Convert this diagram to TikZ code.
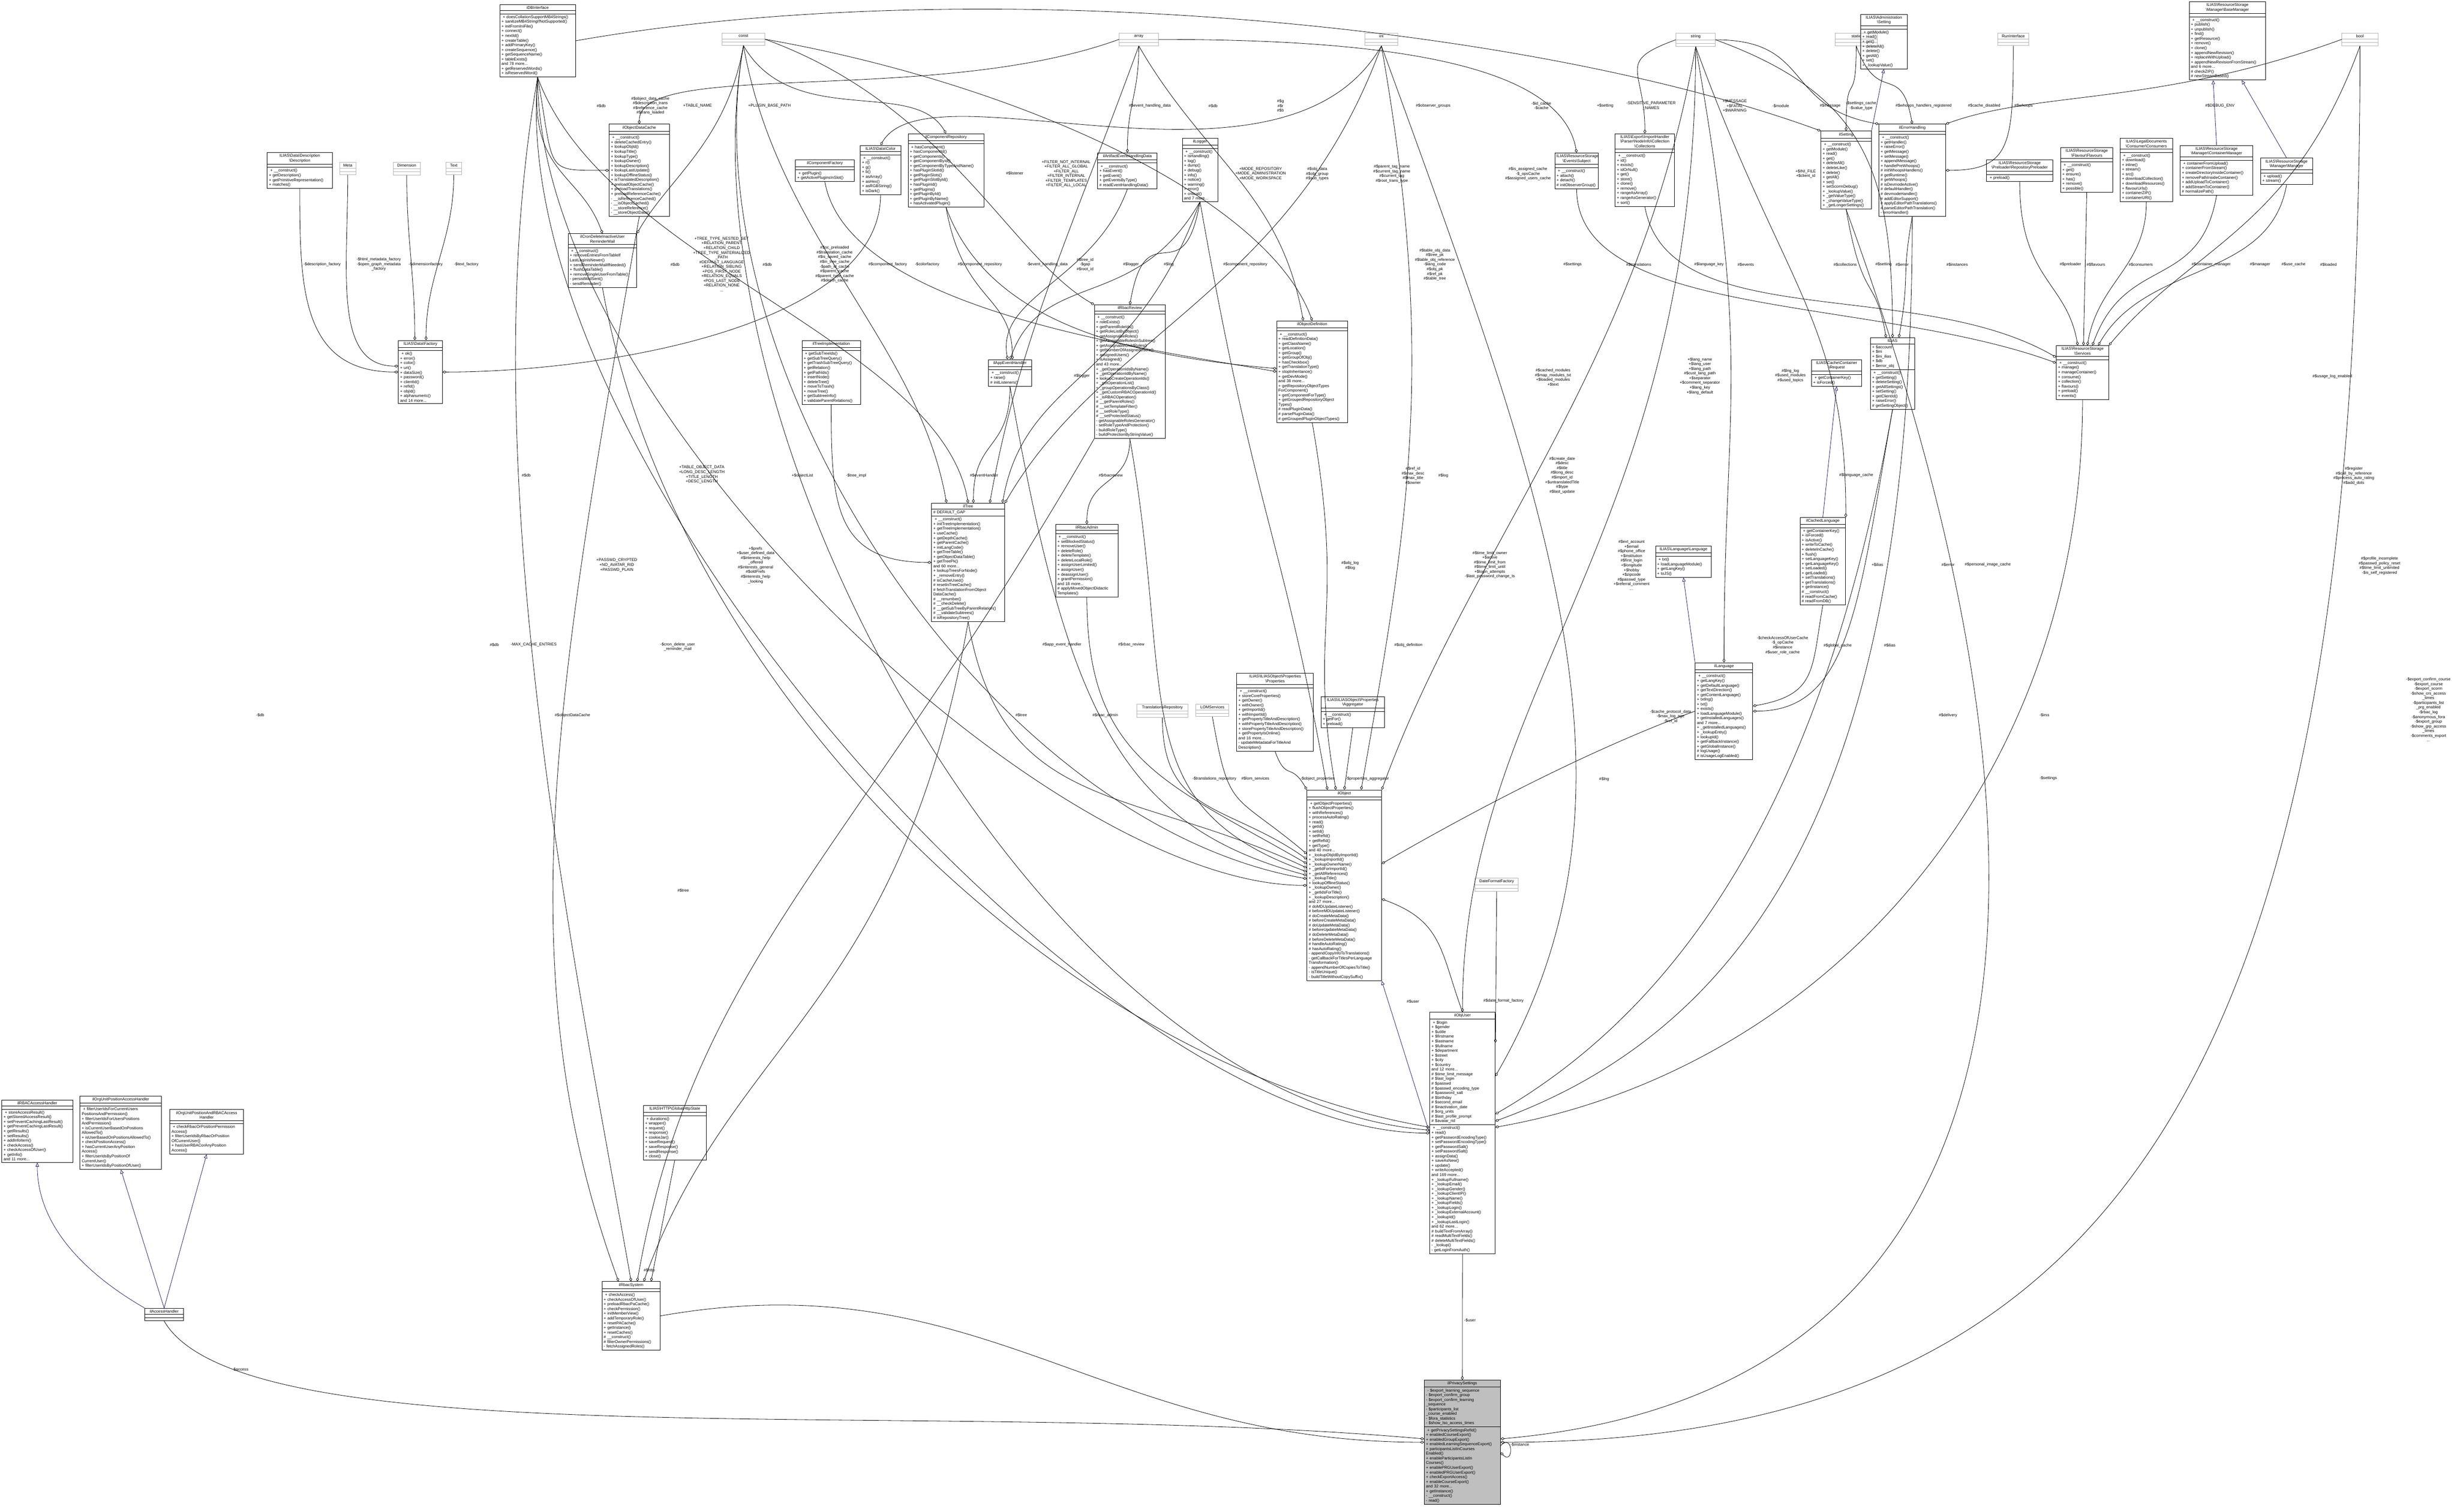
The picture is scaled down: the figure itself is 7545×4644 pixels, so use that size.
\documentclass[tikz,border=0pt]{standalone}
\usepackage{fontspec}
\setmainfont{Liberation Sans}
\usetikzlibrary{shapes.multipart,arrows.meta}
\definecolor{navy}{RGB}{25,25,112}
\newcommand\bsl{\textbackslash}
\newcommand\mf{\fontsize{3.5}{4.1}\selectfont}
\newcommand\np[1]{\nodepart{#1}\mf\raggedright}
\tikzset{
 x=0.01cm,y=-0.01cm,
 cls/.style={draw,line width=0.4pt,rectangle split,rectangle split parts=3,anchor=north west,
   inner xsep=1.5pt,inner ysep=1.2pt,font=\mf,
   rectangle split empty part height=4pt},
 ghost/.style={cls,draw=gray!60,text width=#1},
 agg/.style={line width=0.35pt,-{Diamond[open,length=3.5pt,width=2.4pt]}},
 inh/.style={line width=0.35pt,draw=navy,-{Triangle[open,length=3.5pt,width=3pt]}},
 lbl/.style={font=\mf,align=center,inner sep=0.5pt},
}
\newcommand\ttl[1]{\mf\centering #1\par}
\begin{document}
\begin{tikzpicture}
\useasboundingbox (0,0) rectangle (7545,4644);
% ---------- placeholder types ----------
\node[ghost=1.2cm] (const) at (2217,101) {\ttl{const}\nodepart{two}\mbox{}\nodepart{three}\mbox{}};
\node[ghost=1.1cm] (array) at (3436,101) {\ttl{array}\nodepart{two}\mbox{}\nodepart{three}\mbox{}};
\node[ghost=0.9cm] (int) at (4191,101) {\ttl{int}\nodepart{two}\mbox{}\nodepart{three}\mbox{}};
\node[ghost=1.1cm] (string) at (5146,101) {\ttl{string}\nodepart{two}\mbox{}\nodepart{three}\mbox{}};
\node[ghost=1.2cm] (static) at (5634,101) {\ttl{static}\nodepart{two}\mbox{}\nodepart{three}\mbox{}};
\node[ghost=0.85cm] (runif) at (6134,101) {\ttl{RunInterface}\nodepart{two}\mbox{}\nodepart{three}\mbox{}};
\node[ghost=1.0cm] (bool) at (7191,101) {\ttl{bool}\nodepart{two}\mbox{}\nodepart{three}\mbox{}};
\node[ghost=0.4cm] (meta) at (1042,498) {\ttl{Meta}\nodepart{two}\mbox{}\nodepart{three}\mbox{}};
\node[ghost=0.72cm] (dimension) at (1207,498) {\ttl{Dimension}\nodepart{two}\mbox{}\nodepart{three}\mbox{}};
\node[ghost=0.37cm] (text) at (1369,498) {\ttl{Text}\nodepart{two}\mbox{}\nodepart{three}\mbox{}};
\node[ghost=1.45cm] (transrepo) at (3491,2162) {\ttl{TranslationsRepository}\nodepart{two}\mbox{}\nodepart{three}\mbox{}};
\node[ghost=0.9cm] (lom) at (3672,2162) {\ttl{LOMServices}\nodepart{two}\mbox{}\nodepart{three}\mbox{}};
\node[ghost=1.22cm] (dateff) at (4529,2697) {\ttl{DateFormatFactory}\nodepart{two}\mbox{}\nodepart{three}\mbox{}};
% ---------- classes ----------
\node[cls,text width=2.22cm] (db) at (1534,13) {\ttl{iDBInterface}\nodepart{two}\mbox{}\np{three}
+ doesCollationSupportMB4Strings()\\+ sanitizeMB4StringIfNotSupported()\\+ initFromIniFile()\\+ connect()\\+ nextId()\\+ createTable()\\+ addPrimaryKey()\\+ createSequence()\\+ getSequenceName()\\+ tableExists()\\and 78 more...\\+ getReservedWords()\\+ isReservedWord()};
\node[cls,text width=1.74cm] (odc) at (1870,381) {\ttl{ilObjectDataCache}\nodepart{two}\mbox{}\np{three}
+ \_\_construct()\\+ deleteCachedEntry()\\+ lookupObjId()\\+ lookupTitle()\\+ lookupType()\\+ lookupOwner()\\+ lookupDescription()\\+ lookupLastUpdate()\\+ lookupOfflineStatus()\\+ isTranslatedDescription()\\+ preloadObjectCache()\\+ preloadTranslations()\\+ preloadReferenceCache()\\- \_\_isReferenceCached()\\- \_\_isObjectCached()\\- \_\_storeReference()\\- \_\_storeObjectData()};
\node[cls,text width=2.0cm] (cron) at (1744,717) {\ttl{ilCronDeleteInactiveUser\\ReminderMail}\nodepart{two}\mbox{}\np{three}
+ \_\_construct()\\+ removeEntriesFromTableIf\\LastLoginIsNewer()\\+ sendReminderMailIfNeeded()\\+ flushDataTable()\\+ removeSingleUserFromTable()\\- persistMailSent()\\- sendReminder()};
\node[cls,text width=1.14cm] (color) at (2641,446) {\ttl{ILIAS\bsl Data\bsl Color}\nodepart{two}\mbox{}\np{three}
+ \_\_construct()\\+ r()\\+ g()\\+ b()\\+ asArray()\\+ asHex()\\+ asRGBString()\\+ isDark()};
\node[cls,text width=2.22cm] (comprepo) at (2788,410) {\ttl{ilComponentRepository}\nodepart{two}\mbox{}\np{three}
+ hasComponent()\\+ hasComponentId()\\+ getComponents()\\+ getComponentById()\\+ getComponentByTypeAndName()\\+ hasPluginSlotId()\\+ getPluginSlots()\\+ getPluginSlotById()\\+ hasPluginId()\\+ getPlugins()\\+ getPluginById()\\+ getPluginByName()\\+ hasActivatedPlugin()};
\node[cls,text width=1.7cm] (compfac) at (2442,490) {\ttl{ilComponentFactory}\nodepart{two}\mbox{}\np{three}
+ getPlugin()\\+ getActivePluginsInSlot()};
\node[cls,text width=1.89cm] (descr) at (820,468) {\ttl{ILIAS\bsl Data\bsl Description\\\bsl Description}\nodepart{two}\mbox{}\np{three}
+ \_\_construct()\\+ getDescription()\\+ getPrimitiveRepresentation()\\+ matches()};
\node[cls,text width=1.24cm] (datafac) at (1223,1045) {\ttl{ILIAS\bsl Data\bsl Factory}\nodepart{two}\mbox{}\np{three}
+ ok()\\+ error()\\+ color()\\+ uri()\\+ dataSize()\\+ password()\\+ clientId()\\+ refId()\\+ objId()\\+ alphanumeric()\\and 14 more...};
\node[cls,text width=1.72cm] (artifact) at (3370,469) {\ttl{ilArtifactEventHandlingData}\nodepart{two}\mbox{}\np{three}
+ \_\_construct()\\+ hasEvent()\\+ getEvent()\\+ getEventsByType()\\\# readEventHandlingData()};
\node[cls,text width=0.98cm] (logger) at (3630,424) {\ttl{ilLogger}\nodepart{two}\mbox{}\np{three}
+ \_\_construct()\\+ isHandling()\\+ log()\\+ dump()\\+ debug()\\+ info()\\+ notice()\\+ warning()\\+ error()\\+ critical()\\and 7 more...};
\node[cls,text width=1.23cm] (subject) at (4774,469) {\ttl{ILIAS\bsl ResourceStorage\\\bsl Events\bsl Subject}\nodepart{two}\mbox{}\np{three}
+ \_\_construct()\\+ attach()\\+ detach()\\\# initObserverGroup()};
\node[cls,text width=1.72cm] (collections) at (4959,410) {\ttl{ILIAS\bsl Export\bsl ImportHandler\\\bsl Parser\bsl NodeInfo\bsl Collection\\\bsl Collections}\nodepart{two}\mbox{}\np{three}
+ \_\_construct()\\+ id()\\+ exists()\\+ idOrNull()\\+ get()\\+ store()\\+ clone()\\+ remove()\\+ rangeAsArray()\\+ rangeAsGenerator()\\+ sort()};
\node[cls,text width=1.32cm] (admset) at (5713,43) {\ttl{ILIAS\bsl Administration\\\bsl Setting}\nodepart{two}\mbox{}\np{three}
+ getModule()\\+ read()\\+ get()\\+ deleteAll()\\+ delete()\\+ getAll()\\+ set()\\+ \_lookupValue()};
\node[cls,text width=2.24cm] (basemgr) at (6722,5) {\ttl{ILIAS\bsl ResourceStorage\\\bsl Manager\bsl BaseManager}\nodepart{two}\mbox{}\np{three}
+ \_\_construct()\\+ publish()\\+ unpublish()\\+ find()\\+ getResource()\\+ remove()\\+ clone()\\+ appendNewRevision()\\+ replaceWithUpload()\\+ appendNewRevisionFromStream()\\and 6 more...\\\# checkZIP()\\\# newStreamBased()};
\node[cls,text width=1.44cm] (setting) at (5591,402) {\ttl{ilSetting}\nodepart{two}\mbox{}\np{three}
+ \_\_construct()\\+ getModule()\\+ read()\\+ get()\\+ deleteAll()\\+ deleteLike()\\+ delete()\\+ getAll()\\+ set()\\+ setScormDebug()\\+ \_lookupValue()\\+ \_getValueType()\\+ \_changeValueType()\\+ \_getLongerSettings()};
\node[cls,text width=1.94cm] (errh) at (5769,381) {\ttl{ilErrorHandling}\nodepart{two}\mbox{}\np{three}
+ \_\_construct()\\+ getHandler()\\+ raiseError()\\+ getMessage()\\+ setMessage()\\+ appendMessage()\\+ handlePreWhoops()\\\# initWhoopsHandlers()\\\# getRuntime()\\\# getWhoops()\\\# isDevmodeActive()\\\# defaultHandler()\\\# devmodeHandler()\\\# addEditorSupport()\\\# applyEditorPathTranslations()\\\# parseEditorPathTranslation()\\- errorHandler()};
\node[cls,text width=1.92cm] (preloader) at (6100,490) {\ttl{ILIAS\bsl ResourceStorage\\\bsl Preloader\bsl RepositoryPreloader}\nodepart{two}\mbox{}\np{three}
+ preload()};
\node[cls,text width=1.5cm] (flavours) at (6327,453) {\ttl{ILIAS\bsl ResourceStorage\\\bsl Flavour\bsl Flavours}\nodepart{two}\mbox{}\np{three}
+ \_\_construct()\\+ get()\\+ ensure()\\+ has()\\+ remove()\\+ possible()};
\node[cls,text width=1.5cm] (consumers) at (6510,424) {\ttl{ILIAS\bsl LegalDocuments\\\bsl Consumer\bsl Consumers}\nodepart{two}\mbox{}\np{three}
+ \_\_construct()\\+ download()\\+ inline()\\+ stream()\\+ src()\\+ downloadCollection()\\+ downloadResources()\\+ flavourUrls()\\+ containerZIP()\\+ containerURI()};
\node[cls,text width=2.13cm] (contmgr) at (6694,446) {\ttl{ILIAS\bsl ResourceStorage\\\bsl Manager\bsl ContainerManager}\nodepart{two}\mbox{}\np{three}
+ containerFromUpload()\\+ containerFromStream()\\+ createDirectoryInsideContainer()\\+ removePathInsideContainer()\\+ addUploadToContainer()\\+ addStreamToContainer()\\\# normalizePath()};
\node[cls,text width=1.49cm] (mgr) at (6941,485) {\ttl{ILIAS\bsl ResourceStorage\\\bsl Manager\bsl Manager}\nodepart{two}\mbox{}\np{three}
+ upload()\\+ stream()};
\node[cls,text width=2.07cm] (rbacreview) at (3360,936) {\ttl{ilRbacReview}\nodepart{two}\mbox{}\np{three}
+ \_\_construct()\\+ roleExists()\\+ getParentRoleIds()\\+ getRoleListByObject()\\+ getAssignableRoles()\\+ getAssignableRolesInSubtree()\\+ getAssignableChildRoles()\\+ getNumberOfAssignedUsers()\\+ assignedUsers()\\+ isAssigned()\\and 43 more...\\+ \_getOperationIdsByName()\\+ \_getOperationIdByName()\\+ lookupCreateOperationIds()\\+ \_getOperationList()\\+ \_groupOperationsByClass()\\+ \_getCustomRBACOperationId()\\+ \_isRBACOperation()\\\# \_\_getParentRoles()\\\# \_\_setTemplateFilter()\\\# \_\_setRoleType()\\\# \_\_setProtectedStatus()\\- getAssignableRolesGenerator()\\- setRoleTypeAndProtection()\\- buildRoleType()\\- buildProtectionByStringValue()};
\node[cls,text width=2.07cm] (objdef) at (3920,985) {\ttl{ilObjectDefinition}\nodepart{two}\mbox{}\np{three}
+ \_\_construct()\\+ readDefinitionData()\\+ getClassName()\\+ getLocation()\\+ getGroup()\\+ getGroupOfObj()\\+ hasCheckbox()\\+ getTranslationType()\\+ stopInheritance()\\+ getDevMode()\\and 38 more...\\+ getRepositoryObjectTypes\\ForComponent()\\+ getComponentForType()\\+ getGroupedRepositoryObject\\Types()\\\# readPluginData()\\\# parsePluginData()\\\# getGroupedPluginObjectTypes()};
\node[cls,text width=1.69cm] (treeimpl) at (2462,1045) {\ttl{ilTreeImplementation}\nodepart{two}\mbox{}\np{three}
+ getSubTreeIds()\\+ getSubTreeQuery()\\+ getTrashSubTreeQuery()\\+ getRelation()\\+ getPathIds()\\+ insertNode()\\+ deleteTree()\\+ moveToTrash()\\+ moveTree()\\+ getSubtreeInfo()\\+ validateParentRelations()};
\node[cls,text width=1.21cm] (appevt) at (3035,1104) {\ttl{ilAppEventHandler}\nodepart{two}\mbox{}\np{three}
+ \_\_construct()\\+ raise()\\\# initListeners()};
\node[cls,text width=2.14cm] (tree) at (2860,1545) {\ttl{ilTree}\np{two}\# DEFAULT\_GAP\np{three}
+ \_\_construct()\\+ initTreeImplementation()\\+ getTreeImplementation()\\+ useCache()\\+ getDepthCache()\\+ getParentCache()\\+ initLangCode()\\+ getTreeTable()\\+ getObjectDataTable()\\+ getTreePk()\\and 60 more...\\+ lookupTreesForNode()\\+ \_removeEntry()\\\# isCacheUsed()\\\# resetInTreeCache()\\\# fetchTranslationFromObject\\DataCache()\\\# \_\_renumber()\\\# \_\_checkDelete()\\\# \_\_getSubTreeByParentRelation()\\\# \_\_validateSubtrees()\\\# isRepositoryTree()};
\node[cls,text width=1.81cm] (rbacadmin) at (3241,1610) {\ttl{ilRbacAdmin}\nodepart{two}\mbox{}\np{three}
+ \_\_construct()\\+ setBlockedStatus()\\+ removeUser()\\+ deleteRole()\\+ deleteTemplate()\\+ deleteLocalRole()\\+ assignUserLimited()\\+ assignUser()\\+ deassignUser()\\+ grantPermission()\\and 18 more...\\\# applyMovedObjectDidactic\\Templates()};
\node[cls,text width=1.25cm] (ilias) at (5743,1037) {\ttl{ILIAS}\np{two}+ \$account\\+ \$ini\\+ \$ini\_ilias\\+ \$db\\+ \$error\_obj\np{three}
+ \_\_construct()\\+ getSetting()\\+ deleteSetting()\\+ getAllSettings()\\+ setSetting()\\+ getClientId()\\+ raiseError()\\\# getSettingObject()};
\node[cls,text width=1.44cm] (request) at (5562,1104) {\ttl{ILIAS\bsl Cache\bsl Container\\\bsl Request}\nodepart{two}\mbox{}\np{three}
+ getContainerKey()\\+ isForced()};
\node[cls,text width=1.5cm] (services) at (6314,1061) {\ttl{ILIAS\bsl ResourceStorage\\\bsl Services}\nodepart{two}\mbox{}\np{three}
+ \_\_construct()\\+ manage()\\+ manageContainer()\\+ consume()\\+ collection()\\+ flavours()\\+ preload()\\+ events()};
\node[cls,text width=1.29cm] (cachedlang) at (5527,1589) {\ttl{ilCachedLanguage}\nodepart{two}\mbox{}\np{three}
+ getContainerKey()\\+ isForced()\\+ isActive()\\+ writeToCache()\\+ deleteInCache()\\+ flush()\\+ setLanguageKey()\\+ getLanguageKey()\\+ setLoaded()\\+ getLoaded()\\+ setTranslations()\\+ getTranslations()\\+ getInstance()\\\# \_\_construct()\\\# readFromCache()\\\# readFromDB()};
\node[cls,text width=1.61cm] (langif) at (5083,1677) {\ttl{ILIAS\bsl Language\bsl Language}\nodepart{two}\mbox{}\np{three}
+ txt()\\+ loadLanguageModule()\\+ getLangKey()\\+ toJS()};
\node[cls,text width=1.66cm] (lang) at (5205,2035) {\ttl{ilLanguage}\nodepart{two}\mbox{}\np{three}
+ \_\_construct()\\+ getLangKey()\\+ getDefaultLanguage()\\+ getTextDirection()\\+ getContentLanguage()\\+ txtlng()\\+ txt()\\+ exists()\\+ loadLanguageModule()\\+ getInstalledLanguages()\\and 7 more...\\+ \_getInstalledLanguages()\\+ \_lookupEntry()\\+ lookupId()\\+ getFallbackInstance()\\+ getGlobalInstance()\\\# logUsage()\\\# isUsageLogEnabled()};
\node[cls,text width=2.25cm] (props) at (3797,2067) {\ttl{ILIAS\bsl ILIASObject\bsl Properties\\\bsl Properties}\nodepart{two}\mbox{}\np{three}
+ \_\_construct()\\+ storeCoreProperties()\\+ getOwner()\\+ withOwner()\\+ getImportId()\\+ withImportId()\\+ getPropertyTitleAndDescription()\\+ withPropertyTitleAndDescription()\\+ storePropertyTitleAndDescription()\\+ getPropertyIsOnline()\\and 16 more...\\- updateMetadataForTitleAnd\\Description()};
\node[cls,text width=1.84cm] (aggr) at (4056,2139) {\ttl{ILIAS\bsl ILIASObject\bsl Properties\\\bsl Aggregator}\nodepart{two}\mbox{}\np{three}
+ \_\_construct()\\+ getFor()\\+ preload()};
\node[cls,text width=2.18cm] (obj) at (4013,2426) {\ttl{ilObject}\nodepart{two}\mbox{}\np{three}
+ getObjectProperties()\\+ flushObjectProperties()\\+ withReferences()\\+ processAutoRating()\\+ read()\\+ getId()\\+ setId()\\+ setRefId()\\+ getRefId()\\+ getType()\\and 40 more...\\+ \_lookupObjIdByImportId()\\+ \_lookupImportId()\\+ \_lookupOwnerName()\\+ \_getIdForImportId()\\+ \_getAllReferences()\\+ \_lookupTitle()\\+ lookupOfflineStatus()\\+ \_lookupOwner()\\+ \_getIdsForTitle()\\+ \_lookupDescription()\\and 27 more...\\\# doMDUpdateListener()\\\# beforeMDUpdateListener()\\\# doCreateMetaData()\\\# beforeCreateMetaData()\\\# doUpdateMetaData()\\\# beforeUpdateMetaData()\\\# doDeleteMetaData()\\\# beforeDeleteMetaData()\\\# handleAutoRating()\\\# hasAutoRating()\\- appendCopyInfoToTranslations()\\- getCallbackForTitlesPerLanguage\\Transformation()\\- appendNumberOfCopiesToTitle()\\- isTitleUnique()\\- buildTitleWithoutCopySuffix()};
\node[cls,text width=1.9cm] (user) at (4390,3109) {\ttl{ilObjUser}\np{two}
+ \$login\\+ \$gender\\+ \$utitle\\+ \$firstname\\+ \$lastname\\+ \$fullname\\+ \$department\\+ \$street\\+ \$city\\+ \$country\\and 12 more...\\\# \$time\_limit\_message\\\# \$last\_login\\\# \$passwd\\\# \$passwd\_encoding\_type\\\# \$password\_salt\\\# \$birthday\\\# \$second\_email\\\# \$inactivation\_date\\\# \$org\_units\\\# \$last\_profile\_prompt\\\# \$avatar\_rid\np{three}
+ \_\_construct()\\+ read()\\+ getPasswordEncodingType()\\+ setPasswordEncodingType()\\+ getPasswordSalt()\\+ setPasswordSalt()\\+ assignData()\\+ saveAsNew()\\+ update()\\+ writeAccepted()\\and 169 more...\\+ \_lookupFullname()\\+ \_lookupEmail()\\+ \_lookupGender()\\+ \_lookupClientIP()\\+ \_lookupName()\\+ \_lookupFields()\\+ \_lookupLogin()\\+ \_lookupExternalAccount()\\+ \_lookupId()\\+ \_lookupLastLogin()\\and 62 more...\\\# buildTextFromArray()\\\# readMultiTextFields()\\\# deleteMultiTextFields()\\- \_lookup()\\- getLoginFromAuth()};
\node[cls,text width=2.23cm,fill=gray!50] (privacy) at (4373,4239) {\ttl{ilPrivacySettings}\np{two}
- \$export\_learning\_sequence\\- \$export\_confirm\_group\\- \$export\_confirm\_learning\\\_sequence\\- \$participants\_list\\\_course\_enabled\\- \$fora\_statistics\\- \$show\_lso\_access\_times\np{three}
+ getPrivacySettingsRefId()\\+ enabledCourseExport()\\+ enabledGroupExport()\\+ enabledLearningSequenceExport()\\+ participantsListInCourses\\Enabled()\\+ enableParticipantsListIn\\Courses()\\+ enablePRGUserExport()\\+ enabledPRGUserExport()\\+ checkExportAccess()\\+ enableCourseExport()\\and 32 more...\\+ getInstance()\\- \_\_construct()\\- read()};
\node[cls,text width=2.07cm] (rbacah) at (5,3378) {\ttl{ilRBACAccessHandler}\nodepart{two}\mbox{}\np{three}
+ storeAccessResult()\\+ getStoredAccessResult()\\+ setPreventCachingLastResult()\\+ getPreventCachingLastResult()\\+ getResults()\\+ setResults()\\+ addInfoItem()\\+ checkAccess()\\+ checkAccessOfUser()\\+ getInfo()\\and 11 more...};
\node[cls,text width=2.4cm] (orgah) at (245,3366) {\ttl{ilOrgUnitPositionAccessHandler}\nodepart{two}\mbox{}\np{three}
+ filterUserIdsForCurrentUsers\\PositionsAndPermission()\\+ filterUserIdsForUsersPositions\\AndPermission()\\+ isCurrentUserBasedOnPositions\\AllowedTo()\\+ isUserBasedOnPositionsAllowedTo()\\+ checkPositionAccess()\\+ hasCurrentUserAnyPosition\\Access()\\+ filterUserIdsByPositionOf\\CurrentUser()\\+ filterUserIdsByPositionOfUser()};
\node[cls,text width=2.15cm] (orgrbacah) at (521,3408) {\ttl{ilOrgUnitPositionAndRBACAccess\\Handler}\nodepart{two}\mbox{}\np{three}
+ checkRbacOrPositionPermission\\Access()\\+ filterUserIdsByRbacOrPosition\\OfCurrentUser()\\+ hasUserRBACorAnyPosition\\Access()};
\node[cls,text width=1.08cm] (accessh) at (444,4018) {\ttl{ilAccessHandler}\nodepart{two}\mbox{}\nodepart{three}\mbox{}};
\node[cls,text width=1.68cm] (rbacsys) at (1848,3936) {\ttl{ilRbacSystem}\nodepart{two}\mbox{}\np{three}
+ checkAccess()\\+ checkAccessOfUser()\\+ preloadRbacPaCache()\\+ checkPermission()\\+ initMemberView()\\+ addTemporaryRole()\\+ resetPACache()\\+ getInstance()\\+ resetCaches()\\\# \_\_construct()\\\# filterOwnerPermissions()\\- fetchAssignedRoles()};
\node[cls,text width=1.82cm] (http) at (1975,3395) {\ttl{ILIAS\bsl HTTP\bsl GlobalHttpState}\nodepart{two}\mbox{}\np{three}
+ durations()\\+ wrapper()\\+ request()\\+ response()\\+ cookieJar()\\+ saveRequest()\\+ saveResponse()\\+ sendResponse()\\+ close()};
% ---------- inheritance ----------
\draw[inh] (contmgr.north) -- (basemgr.250);
\draw[inh] (mgr.north) -- (basemgr.290);
\draw[inh] (setting.north east) -- (admset.south);
\draw[inh] (cachedlang.north) -- (request.south);
\draw[inh] (lang.north west) -- (langif.south);
\draw[inh] (user.west) -- (obj.south east);
\draw[inh] (accessh.north west) .. controls +(150:2cm) and +(-90:2cm) .. (rbacah.south);
\draw[inh] (accessh.north) -- (orgah.south);
\draw[inh] (accessh.north) -- (orgrbacah.south);
% ---------- aggregations ----------
\draw[agg] (descr.south) .. controls +(-90:3cm) and +(180:3cm) .. (datafac.west);
\draw[agg] (meta.south) .. controls +(-90:3cm) and +(180:2cm) .. (datafac.165);
\draw[agg] (dimension.south) .. controls +(-90:2cm) and +(90:2cm) .. (datafac.100);
\draw[agg] (text.south) .. controls +(-90:2cm) and +(90:2cm) .. (datafac.80);
\draw[agg] (color.south) .. controls +(-90:4cm) and +(0:5cm) .. (datafac.east);
\draw[agg] (db.south) .. controls +(-80:3cm) and +(180:2cm) .. (odc.west);
\draw[agg] (db.south) .. controls +(-70:6cm) and +(100:5cm) .. (tree.north);
\draw[agg] (db.south) .. controls +(-90:10cm) and +(180:8cm) .. (obj.west);
\draw[agg] (db.south) .. controls +(-100:12cm) and +(100:10cm) .. (rbacsys.north);
\draw[agg] (db.south) .. controls +(-95:12cm) and +(180:10cm) .. (user.west);
\draw[agg] (db.east) .. controls +(10:12cm) and +(160:10cm) .. (setting.north west);
\draw[agg] (db.south) .. controls +(-95:3cm) and +(110:2cm) .. (cron.north);
\draw[agg] (const.south) .. controls +(-100:3cm) and +(60:2cm) .. (cron.north east);
\draw[agg] (const.south) .. controls +(-60:3cm) and +(120:2cm) .. (comprepo.north);
\draw[agg] (const.south) .. controls +(-80:6cm) and +(100:5cm) .. (tree.110);
\draw[agg] (const.south) .. controls +(-100:10cm) and +(170:10cm) .. (obj.170);
\draw[agg] (const.south) .. controls +(-100:12cm) and +(175:12cm) .. (user.175);
\draw[agg] (const.east) .. controls +(-20:6cm) and +(150:3cm) .. (rbacreview.north west);
\draw[agg] (const.east) .. controls +(-10:8cm) and +(110:4cm) .. (objdef.north);
\draw[agg] (array.south) .. controls +(-90:1.5cm) and +(90:1.5cm) .. (artifact.north);
\draw[agg] (array.west) .. controls +(200:6cm) and +(90:2cm) .. (odc.north);
\draw[agg] (array.south) .. controls +(-110:6cm) and +(80:5cm) .. (tree.70);
\draw[agg] (array.south) .. controls +(-60:4cm) and +(100:4cm) .. (objdef.100);
\draw[agg] (array.east) .. controls +(0:6cm) and +(100:3cm) .. (subject.north);
\draw[agg] (int.south) .. controls +(-120:6cm) and +(60:3cm) .. (color.north);
\draw[agg] (int.south) .. controls +(-110:8cm) and +(60:6cm) .. (tree.north east);
\draw[agg] (int.south) .. controls +(-80:10cm) and +(80:8cm) .. (obj.80);
\draw[agg] (int.south) .. controls +(-70:15cm) and +(60:10cm) .. (user.60);
\draw[agg] (string.south) .. controls +(-100:10cm) and +(70:8cm) .. (obj.north east);
\draw[agg] (string.south) .. controls +(-90:15cm) and +(90:10cm) .. (user.north);
\draw[agg] (string.south) .. controls +(-80:10cm) and +(90:8cm) .. (lang.north);
\draw[agg] (string.south) .. controls +(-70:8cm) and +(90:6cm) .. (cachedlang.north east);
\draw[agg] (string.east) .. controls +(-20:5cm) and +(90:5cm) .. (ilias.north);
\draw[agg] (string.west) .. controls +(200:2cm) and +(90:2cm) .. (collections.north);
\draw[agg] (string.east) .. controls +(0:3cm) and +(170:3cm) .. (errh.north west);
\draw[agg] (static.south) .. controls +(-90:2cm) and +(90:2cm) .. (setting.north);
\draw[agg] (static.south) .. controls +(-70:2cm) and +(100:2cm) .. (errh.north);
\draw[agg] (runif.south) .. controls +(-90:3cm) and +(0:2cm) .. (errh.east);
\draw[agg] (bool.west) .. controls +(200:6cm) and +(20:3cm) .. (errh.north east);
\draw[agg] (logger.south) .. controls +(-110:6cm) and +(80:4cm) .. (tree.60);
\draw[agg] (logger.south) .. controls +(-100:3cm) and +(80:3cm) .. (rbacreview.north);
\draw[agg] (logger.south) .. controls +(-80:10cm) and +(100:8cm) .. (obj.100);
\draw[agg] (logger.south) .. controls +(-120:4cm) and +(70:3cm) .. (appevt.north);
\draw[agg] (compfac.south) .. controls +(-80:4cm) and +(170:4cm) .. (objdef.west);
\draw[agg] (comprepo.south) .. controls +(-70:4cm) and +(175:4cm) .. (objdef.175);
\draw[agg] (comprepo.south) .. controls +(-80:3cm) and +(90:2cm) .. (appevt.80);
\draw[agg] (artifact.south) .. controls +(-110:3cm) and +(100:2cm) .. (appevt.100);
\draw[agg] (treeimpl.south) .. controls +(-90:3cm) and +(180:3cm) .. (tree.west);
\draw[agg] (appevt.south) .. controls +(-90:2cm) and +(90:2cm) .. (tree.85);
\draw[agg] (appevt.south) .. controls +(-80:10cm) and +(165:6cm) .. (obj.165);
\draw[agg] (rbacreview.south) .. controls +(-90:1.5cm) and +(90:1.5cm) .. (rbacadmin.north);
\draw[agg] (rbacreview.south) .. controls +(-80:8cm) and +(160:6cm) .. (obj.160);
\draw[agg] (rbacreview.south west) .. controls +(-120:15cm) and +(80:10cm) .. (rbacsys.80);
\draw[agg] (tree.south) .. controls +(-80:6cm) and +(155:6cm) .. (obj.155);
\draw[agg] (tree.south) .. controls +(-100:12cm) and +(70:8cm) .. (rbacsys.70);
\draw[agg] (rbacadmin.south) .. controls +(-90:5cm) and +(150:5cm) .. (obj.150);
\draw[agg] (objdef.south) .. controls +(-80:6cm) and +(100:5cm) .. (obj.95);
\draw[agg] (transrepo.south) .. controls +(-90:3cm) and +(145:3cm) .. (obj.145);
\draw[agg] (lom.south) .. controls +(-80:3cm) and +(140:3cm) .. (obj.140);
\draw[agg] (props.south) .. controls +(-70:1cm) and +(120:1cm) .. (obj.north west);
\draw[agg] (aggr.south) -- (obj.north);
\draw[agg] (user.north) .. controls +(110:2cm) and +(-20:2cm) .. (obj.-20);
\draw[agg] (dateff.south) -- (user.70);
\draw[agg] (user.south) -- (privacy.north);
\draw[agg] (privacy.-5) .. controls +(40,-40) and +(40,40) .. (privacy.-15);
\draw[agg] (accessh.south) .. controls +(-60:5cm) and +(175:15cm) .. (privacy.175);
\draw[agg] (http.south) -- (rbacsys.60);
\draw[agg] (rbacsys.east) .. controls +(10:10cm) and +(180:10cm) .. (privacy.180);
\draw[agg] (odc.south) .. controls +(-100:15cm) and +(110:10cm) .. (rbacsys.110);
\draw[agg] (cron.south) .. controls +(-80:12cm) and +(170:12cm) .. (user.170);
\draw[agg] (subject.south) .. controls +(-90:4cm) and +(160:6cm) .. (services.160);
\draw[agg] (collections.south) .. controls +(-80:4cm) and +(150:5cm) .. (services.150);
\draw[agg] (preloader.south) .. controls +(-90:3cm) and +(100:2cm) .. (services.100);
\draw[agg] (flavours.south) -- (services.88);
\draw[agg] (consumers.south) .. controls +(-90:2cm) and +(80:2cm) .. (services.80);
\draw[agg] (contmgr.south) .. controls +(-100:3cm) and +(70:3cm) .. (services.70);
\draw[agg] (mgr.south) .. controls +(-100:3cm) and +(60:3cm) .. (services.60);
\draw[agg] (bool.south) .. controls +(-110:6cm) and +(50:4cm) .. (services.north east);
\draw[agg] (setting.south) .. controls +(-80:3cm) and +(100:2cm) .. (ilias.100);
\draw[agg] (errh.south) .. controls +(-100:2cm) and +(80:2cm) .. (ilias.80);
\draw[agg] (cachedlang.south) .. controls +(-100:2cm) and +(10:2cm) .. (lang.10);
\draw[agg] (ilias.south) .. controls +(-100:6cm) and +(0:3cm) .. (lang.east);
\draw[agg] (lang.west) .. controls +(200:3cm) and +(30:4cm) .. (obj.30);
\draw[agg] (ilias.south) .. controls +(-100:10cm) and +(30:8cm) .. (user.30);
\draw[agg] (errh.south) .. controls +(-90:15cm) and +(20:10cm) .. (user.20);
\draw[agg] (services.south) .. controls +(-90:12cm) and +(10:10cm) .. (user.10);
\draw[agg] (setting.south) .. controls +(-70:25cm) and +(5:15cm) .. (privacy.5);
\draw[agg] (bool.south) .. controls +(-90:30cm) and +(0:20cm) .. (privacy.east);
% ---------- labels ----------
\node[lbl] (l1) at (989,812) {-\$description\_factory};
\node[lbl] (l2) at (1163,812) {-\$html\_metadata\_factory\\-\$open\_graph\_metadata\\\_factory};
\node[lbl] (l3) at (1307,812) {-\$dimensionfactory};
\node[lbl] (l4) at (1432,812) {-\$text\_factory};
\node[lbl] (l5) at (2847,813) {-\$colorfactory};
\node[lbl] (l6) at (1846,325) {\#\$db};
\node[lbl] (l7) at (1997,325) {\#\$object\_data\_cache\\\#\$description\_trans\\\#\$reference\_cache\\\#\$trans\_loaded};
\node[lbl] (l8) at (2142,325) {+TABLE\_NAME};
\node[lbl] (l9) at (2363,325) {+PLUGIN\_BASE\_PATH};
\node[lbl] (l10) at (2073,813) {\#\$db};
\node[lbl] (l11) at (2356,813) {\#\$db};
\node[lbl] (l12) at (2216,812) {+TREE\_TYPE\_NESTED\_SET\\+RELATION\_PARENT\\+RELATION\_CHILD\\+TREE\_TYPE\_MATERIALIZED\\\_PATH\\\#DEFAULT\_LANGUAGE\\+RELATION\_SIBLING\\+POS\_FIRST\_NODE\\+RELATION\_EQUALS\\+POS\_LAST\_NODE\\+RELATION\_NONE\\...};
\node[lbl] (l13) at (2563,812) {\#\$oc\_preloaded\\\#\$translation\_cache\\\#\$is\_saved\_cache\\\#\$in\_tree\_cache\\-\$path\_id\_cache\\\#\$parent\_cache\\\#\$parent\_type\_cache\\\#\$depth\_cache};
\node[lbl] (l14) at (2726,813) {\#\$component\_factory};
\node[lbl] (l15) at (3009,813) {\#\$component\_repository};
\node[lbl] (l16) at (3531,325) {\#\$event\_handling\_data};
\node[lbl] (l17) at (3725,325) {\#\$db};
\node[lbl] (l18) at (3932,325) {\#\$g\\\#\$r\\\#\$b};
\node[lbl] (l19) at (4401,325) {\#\$observer\_groups};
\node[lbl] (l20) at (4733,325) {-\$id\_cache\\-\$cache};
\node[lbl] (l21) at (4929,325) {+\$setting};
\node[lbl] (l22) at (5070,325) {-SENSITIVE\_PARAMETER\\\_NAMES};
\node[lbl] (l23) at (5327,325) {+\$MESSAGE\\+\$FATAL\\+\$WARNING};
\node[lbl] (l24) at (5468,325) {-\$module};
\node[lbl] (l25) at (3274,534) {+FILTER\_NOT\_INTERNAL\\+FILTER\_ALL\_GLOBAL\\+FILTER\_ALL\\+FILTER\_INTERNAL\\+FILTER\_TEMPLATES\\+FILTER\_ALL\_LOCAL};
\node[lbl] (l26) at (3116,533) {\#\$listener};
\node[lbl] (l27) at (3871,534) {+MODE\_REPOSITORY\\+MODE\_ADMINISTRATION\\+MODE\_WORKSPACE};
\node[lbl] (l28) at (4045,534) {\#\$obj\_data\\\#\$obj\_group\\\#\$sub\_types};
\node[lbl] (l29) at (4274,534) {\#\$parent\_tag\_name\\\#\$current\_tag\_name\\\#\$current\_tag\\\#\$root\_trans\_type};
\node[lbl] (l30) at (4692,534) {\#\$is\_assigned\_cache\\-\$\_opsCache\\\#\$assigned\_users\_cache};
\node[lbl] (l31) at (5545,534) {+\$INI\_FILE\\+\$client\_id};
\node[lbl] (l32) at (3216,813) {-\$event\_handling\_data};
\node[lbl] (l33) at (3332,813) {\#\$tree\_id\\-\$gap\\\#\$root\_id};
\node[lbl] (l34) at (3473,813) {\#\$logger};
\node[lbl] (l35) at (3589,813) {\#\$log};
\node[lbl] (l36) at (3824,813) {\#\$component\_repository};
\node[lbl] (l37) at (4406,813) {\#\$table\_obj\_data\\\#\$tree\_pk\\\#\$table\_obj\_reference\\-\$lang\_code\\\#\$obj\_pk\\\#\$ref\_pk\\\#\$table\_tree};
\node[lbl] (l38) at (4829,813) {\#\$settings};
\node[lbl] (l39) at (5032,813) {\#\$translations};
\node[lbl] (l40) at (5248,813) {\#\$language\_key};
\node[lbl] (l41) at (5361,813) {\#\$events};
\node[lbl] (l42) at (5620,325) {\#\$message};
\node[lbl] (l43) at (5715,325) {-\$settings\_cache\\-\$value\_type};
\node[lbl] (l44) at (5907,325) {\#\$whoops\_handlers\_registered};
\node[lbl] (l45) at (6093,325) {\#\$cache\_disabled};
\node[lbl] (l46) at (6214,325) {\#\$whoops};
\node[lbl] (l47) at (6817,325) {\#\$DEBUG\_ENV};
\node[lbl] (l48) at (5666,813) {\#\$collections};
\node[lbl] (l49) at (5784,813) {\#\$setting};
\node[lbl] (l50) at (5841,813) {\#\$error};
\node[lbl] (l51) at (6010,813) {\#\$instances};
\node[lbl] (l52) at (6358,813) {\#\$preloader};
\node[lbl] (l53) at (6436,813) {\#\$flavours};
\node[lbl] (l54) at (6574,813) {\#\$consumers};
\node[lbl] (l55) at (6790,813) {\#\$container\_manager};
\node[lbl] (l56) at (6940,813) {\#\$manager};
\node[lbl] (l57) at (7043,813) {\#\$use\_cache};
\node[lbl] (l58) at (7150,813) {\#\$loaded};
\node[lbl] (l59) at (4769,1159) {\#\$cached\_modules\\\#\$map\_modules\_txt\\+\$loaded\_modules\\+\$text};
\node[lbl] (l60) at (5220,1155) {+\$lang\_name\\+\$lang\_user\\+\$lang\_path\\\#\$cust\_lang\_path\\+\$separator\\+\$comment\_separator\\+\$lang\_key\\+\$lang\_default};
\node[lbl] (l61) at (5498,1154) {\#\$lng\_log\\\#\$used\_modules\\\#\$used\_topics};
\node[lbl] (l62) at (5700,1459) {\#\$language\_cache};
\node[lbl] (l63) at (4797,1460) {\#\$create\_date\\\#\$desc\\\#\$title\\\#\$long\_desc\\\#\$import\_id\\+\$untranslatedTitle\\\#\$type\\\#\$last\_update};
\node[lbl] (l64) at (4339,1461) {\#\$ref\_id\\\#\$max\_desc\\\#\$max\_title\\\#\$owner};
\node[lbl] (l65) at (4432,1461) {\#\$log};
\node[lbl] (l66) at (4146,1737) {\#\$obj\_log\\\#\$log};
\node[lbl] (l67) at (4575,1735) {\#\$time\_limit\_owner\\+\$active\\\#\$time\_limit\_from\\\#\$time\_limit\_until\\+\$login\_attempts\\-\$last\_password\_change\_ts};
\node[lbl] (l68) at (4325,1982) {\#\$obj\_definition};
\node[lbl] (l69) at (7162,1156) {\#\$usage\_log\_enabled};
\node[lbl] (l70) at (7228,1462) {\#\$register\\\#\$call\_by\_reference\\\#\$process\_auto\_rating\\\#\$add\_dots};
\node[lbl] (l71) at (5765,1735) {+\$ilias};
\node[lbl] (l72) at (5982,1735) {\#\$error};
\node[lbl] (l73) at (6104,1735) {\#\$personal\_image\_cache};
\node[lbl] (l74) at (5010,1736) {\#\$ext\_account\\+\$email\\\#\$phone\_office\\+\$institution\\\#\$first\_login\\+\$longitude\\+\$hobby\\+\$zipcode\\\#\$passwd\_type\\+\$referral\_comment\\...};
\node[lbl] (l75) at (7307,1738) {\#\$profile\_incomplete\\\#\$passwd\_policy\_reset\\\#\$time\_limit\_unlimited\\-\$is\_self\_registered};
\node[lbl] (l76) at (5474,1982) {-\$checkAccessOfUserCache\\-\$\_opCache\\\#\$instance\\\#\$user\_role\_cache};
\node[lbl] (l77) at (5643,1983) {\#\$global\_cache};
\node[lbl] (l78) at (5803,1983) {\#\$ilias};
\node[lbl] (l79) at (5130,2201) {-\$cache\_protocol\_data\\-\$max\_log\_age\\-\$ref\_id};
\node[lbl] (l80) at (5982,2198) {\#\$delivery};
\node[lbl] (l81) at (6278,2197) {-\$irss};
\node[lbl] (l82) at (6290,2391) {-\$settings};
\node[lbl] (l83) at (7457,2180) {-\$export\_confirm\_course\\-\$export\_course\\-\$export\_scorm\\-\$show\_crs\_access\\\_times\\-\$participants\_list\\\_prg\_enabled\\-\$rbac\_log\\-\$anonymous\_fora\\-\$export\_group\\-\$show\_grp\_access\\\_times\\-\$comments\_export\\...};
\node[lbl] (l84) at (2155,1458) {+TABLE\_OBJECT\_DATA\\+LONG\_DESC\_LENGTH\\+TITLE\_LENGTH\\+DESC\_LENGTH};
\node[lbl] (l85) at (2464,1461) {+\$objectList};
\node[lbl] (l86) at (2629,1461) {-\$tree\_impl};
\node[lbl] (l87) at (3022,1461) {\#\$eventHandler};
\node[lbl] (l88) at (3411,1461) {\#\$rbacreview};
\node[lbl] (l89) at (3322,1155) {\#\$logger};
\node[lbl] (l90) at (2320,1736) {+\$prefs\\+\$user\_defined\_data\\\#\$interests\_help\\\_offered\\\#\$interests\_general\\\#\$oldPrefs\\\#\$interests\_help\\\_looking};
\node[lbl] (l91) at (2081,1987) {-\$cron\_delete\_user\\\_reminder\_mail};
\node[lbl] (l92) at (3261,1980) {\#\$app\_event\_handler};
\node[lbl] (l93) at (3474,1980) {\#\$rbac\_review};
\node[lbl] (l94) at (3136,2197) {\#\$tree};
\node[lbl] (l95) at (3394,2197) {\#\$rbac\_admin};
\node[lbl] (l96) at (3729,2392) {-\$translations\_repository};
\node[lbl] (l97) at (3855,2392) {\#\$lom\_services};
\node[lbl] (l98) at (4046,2392) {-\$object\_properties};
\node[lbl] (l99) at (4199,2392) {-\$properties\_aggregator};
\node[lbl] (l100) at (4339,3076) {\#\$user};
\node[lbl] (l101) at (4617,3075) {\#\$date\_format\_factory};
\node[lbl] (l102) at (4926,2393) {\#\$lng};
\node[lbl] (l103) at (4514,4056) {-\$user};
\node[lbl] (l104) at (4667,4437) {-\$instance};
\node[lbl] (l105) at (740,4206) {\$access};
\node[lbl] (l106) at (1994,3902) {\#\$http};
\node[lbl] (l107) at (1616,1460) {\#\$db};
\node[lbl] (l108) at (1894,1736) {+PASSWD\_CRYPTED\\+NO\_AVATAR\_RID\\+PASSWD\_PLAIN};
\node[lbl] (l109) at (1518,1981) {\#\$db};
\node[lbl] (l110) at (1639,1981) {-MAX\_CACHE\_ENTRIES};
\node[lbl] (l111) at (799,2197) {-\$db};
\node[lbl] (l112) at (1758,2197) {\#\$objectDataCache};
\node[lbl] (l113) at (2098,2735) {\#\$tree};
\end{tikzpicture}
\end{document}
